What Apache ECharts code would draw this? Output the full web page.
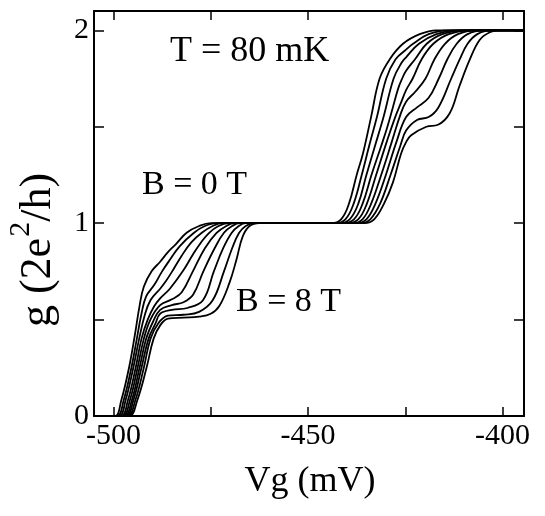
<!DOCTYPE html>
<html>
<head>
<meta charset="utf-8">
<script src="https://cdn.jsdelivr.net/npm/echarts@6/dist/echarts.min.js"></script>
<style>html,body{margin:0;padding:0;background:#fff;}#c{width:545px;height:516px;}</style>
</head>
<body>
<div id="c"></div>
<script>
// Conductance curves g (2e^2/h) vs gate voltage Vg (mV), B = 0 ... 8 T
var curveB0 = [[-502,0],[-499.5,0],[-498,0.08],[-496,0.25],[-494.5,0.42],[-493.3,0.57],[-492.2,0.67],[-490.2,0.75],[-488,0.80],[-486,0.85],[-484,0.89],[-481.2,0.95],[-478,0.985],[-475,1.0],[-444,1.0],[-441.5,1.02],[-439.5,1.1],[-437.5,1.25],[-435.9,1.36],[-433.8,1.55],[-431.6,1.75],[-429,1.85],[-425.6,1.93],[-421.3,1.98],[-417,2.0],[-394.5,2.0]];
var curveB1 = [[-502,0],[-499,0],[-497.4,0.08],[-495.4,0.25],[-494,0.4],[-492.8,0.53],[-491.6,0.62],[-489.5,0.68],[-487.5,0.75],[-485.5,0.81],[-483,0.88],[-479.3,0.95],[-476.5,0.985],[-473.5,1.0],[-443,1.0],[-440.4,1.02],[-438.3,1.1],[-436.2,1.25],[-434.3,1.4],[-432.3,1.55],[-429.9,1.75],[-427.5,1.85],[-424.8,1.9],[-423,1.93],[-419,1.98],[-414,2.0],[-394.5,2.0]];
var curveB2 = [[-502,0],[-498.5,0],[-496.9,0.08],[-494.9,0.25],[-493.4,0.4],[-492,0.52],[-490.5,0.6],[-488,0.66],[-486.5,0.7],[-484.9,0.75],[-482.5,0.83],[-480,0.9],[-477.3,0.95],[-474.5,0.985],[-472,1.0],[-442,1.0],[-439.3,1.02],[-437.1,1.1],[-435,1.25],[-432.8,1.4],[-430.6,1.55],[-428,1.75],[-426,1.83],[-424.8,1.86],[-421.5,1.93],[-417,1.98],[-412,2.0],[-394.5,2.0]];
var curveB3 = [[-502,0],[-498,0],[-496.3,0.08],[-494.3,0.25],[-492.8,0.4],[-491.2,0.5],[-489.5,0.57],[-488,0.61],[-485.5,0.66],[-482.2,0.75],[-479.5,0.84],[-477.5,0.9],[-475.4,0.95],[-473,0.985],[-470.5,1.0],[-441,1.0],[-438.2,1.02],[-436,1.1],[-433.7,1.25],[-431.2,1.4],[-429.6,1.5],[-428.2,1.6],[-426.8,1.7],[-425.8,1.75],[-424.8,1.79],[-422.5,1.85],[-419.5,1.93],[-415.5,1.98],[-410,2.0],[-394.5,2.0]];
var curveB4 = [[-502,0],[-497.6,0],[-495.8,0.08],[-493.8,0.25],[-492.2,0.4],[-490.5,0.5],[-488,0.575],[-485,0.605],[-482.5,0.64],[-479.6,0.75],[-476.5,0.87],[-473.5,0.95],[-471,0.985],[-469,1.0],[-440,1.0],[-437.1,1.02],[-434.9,1.1],[-432.5,1.25],[-429.8,1.42],[-427.6,1.55],[-426,1.63],[-424.8,1.69],[-423.1,1.75],[-420.8,1.85],[-417.8,1.93],[-413.8,1.98],[-408.5,2.0],[-394.5,2.0]];
var curveB5 = [[-502,0],[-497.2,0],[-495.3,0.08],[-493.3,0.25],[-491.6,0.4],[-489.8,0.49],[-488,0.55],[-485,0.575],[-482,0.59],[-479.5,0.63],[-476.9,0.75],[-474,0.87],[-471.6,0.95],[-469.5,0.985],[-467.5,1.0],[-438.5,1.0],[-436,1.02],[-433.8,1.1],[-431.2,1.25],[-428.5,1.42],[-426.3,1.56],[-424.8,1.63],[-422.5,1.68],[-419.8,1.75],[-417.5,1.85],[-414.8,1.93],[-411.5,1.98],[-407,2.0],[-394.5,2.0]];
var curveB6 = [[-502,0],[-496.8,0],[-494.9,0.08],[-492.8,0.25],[-491,0.4],[-489.2,0.48],[-488,0.53],[-485,0.55],[-481,0.56],[-477,0.6],[-474.2,0.75],[-471.8,0.87],[-469.6,0.95],[-467.8,0.985],[-466,1.0],[-437.5,1.0],[-435,1.02],[-432.7,1.1],[-430,1.25],[-427.3,1.42],[-424.8,1.55],[-422,1.6],[-419,1.65],[-416.4,1.75],[-414.2,1.85],[-411.8,1.93],[-409,1.98],[-405,2.0],[-394.5,2.0]];
var curveB7 = [[-502,0],[-496.4,0],[-494.4,0.08],[-492.2,0.25],[-490.5,0.4],[-488.5,0.48],[-486,0.52],[-482,0.525],[-478,0.54],[-474.5,0.6],[-471.6,0.75],[-469.5,0.87],[-467.7,0.95],[-466,0.985],[-464,1.0],[-436.5,1.0],[-434,1.02],[-431.5,1.1],[-428.8,1.25],[-426.3,1.4],[-424.8,1.48],[-422,1.535],[-419,1.55],[-416.5,1.6],[-413.2,1.75],[-411,1.85],[-409,1.93],[-406.5,1.98],[-403,2.0],[-394.5,2.0]];
var curveB8 = [[-502,0],[-496,0],[-493.9,0.08],[-491.5,0.25],[-489.7,0.4],[-488,0.47],[-486,0.505],[-482,0.51],[-478,0.515],[-475,0.53],[-472.8,0.57],[-470.2,0.69],[-468.4,0.81],[-466.8,0.93],[-465,0.985],[-462.5,1.0],[-435.5,1.0],[-433,1.02],[-430.5,1.1],[-428.2,1.21],[-426.1,1.36],[-424.8,1.42],[-423.5,1.456],[-419.6,1.5],[-416.6,1.51],[-413.6,1.57],[-411.1,1.71],[-408.5,1.845],[-405.9,1.95],[-403.3,1.99],[-401,2.0],[-394.5,2.0]];

var fieldNames = ['0 T','1 T','2 T','3 T','4 T','5 T','6 T','7 T','8 T'];
var xTicks = [-500,-475,-450,-425,-400];
var xTickLabels = [-500,-450,-400];
var yTicks = [0,0.5,1,1.5,2];
var yTickLabels = [0,1,2];

var curves = [curveB0,curveB1,curveB2,curveB3,curveB4,curveB5,curveB6,curveB7,curveB8];
var FONT = '"Liberation Serif", "DejaVu Serif", serif';
var axisLineStyle = {color:'#000', width:2};

function xAx(pos, showLabel){
  return {type:'value', position:pos, min:-505, max:-394.5,
    axisLine:{show:true, onZero:false, lineStyle:axisLineStyle},
    axisTick:{show:true, inside:true, length:9, customValues:xTicks, lineStyle:{color:'#000', width:1.5}},
    axisLabel:{show:showLabel, customValues:xTickLabels, margin:5, color:'#000', fontFamily:FONT, fontSize:30},
    splitLine:{show:false}};
}
function yAx(pos, showLabel){
  return {type:'value', position:pos, min:0, max:2.1,
    axisLine:{show:true, onZero:false, lineStyle:axisLineStyle},
    axisTick:{show:true, inside:true, length:10, customValues:yTicks, lineStyle:{color:'#000', width:1.5}},
    axisLabel:{show:showLabel, customValues:yTickLabels, margin:5, color:'#000', fontFamily:FONT, fontSize:30},
    splitLine:{show:false}};
}

var chart = echarts.init(document.getElementById('c'), null, {renderer:'canvas'});
chart.setOption({
  animation:false,
  backgroundColor:'#fff',
  grid:{left:94, right:21, top:11, bottom:100, containLabel:false},
  xAxis:[xAx('bottom', true), xAx('top', false)],
  yAxis:[yAx('left', true), yAx('right', false)],
  series: curves.map(function(d, i){
    return {type:'line', name:fieldNames[i], data:d, xAxisIndex:0, yAxisIndex:0,
      showSymbol:false, smooth:0.4, clip:true,
      lineStyle:{color:'#000', width:1.8}};
  }),
  graphic:[
    {type:'text', x:170, y:52, style:{text:'T = 80 mK', fill:'#000', font:'36px '+FONT, align:'left', verticalAlign:'middle'}},
    {type:'text', x:142, y:185, style:{text:'B = 0 T', fill:'#000', font:'34px '+FONT, align:'left', verticalAlign:'middle'}},
    {type:'text', x:236, y:302, style:{text:'B = 8 T', fill:'#000', font:'34px '+FONT, align:'left', verticalAlign:'middle'}},
    {type:'text', x:310, y:482, style:{text:'Vg (mV)', fill:'#000', font:'36px '+FONT, align:'center', verticalAlign:'middle'}},
    {type:'text', x:33, y:250, rotation:Math.PI/2, style:{
      text:'{n|g (2e}{s|2}{n|/h)}', fill:'#000', align:'center', verticalAlign:'middle',
      rich:{n:{fontFamily:FONT, fontSize:44, lineHeight:54, fill:'#000', verticalAlign:'bottom'},
            s:{fontFamily:FONT, fontSize:30, lineHeight:18, fill:'#000', verticalAlign:'top', padding:[0,0,0,1]}}}}
  ]
});
</script>
</body>
</html>
